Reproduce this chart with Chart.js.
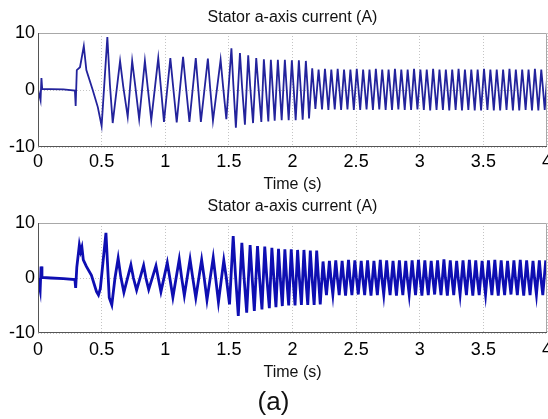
<!DOCTYPE html>
<html><head><meta charset="utf-8">
<script src="https://cdn.jsdelivr.net/npm/chart.js@4/dist/chart.umd.min.js"></script>
<style>
html,body{margin:0;padding:0;background:#fff;}
#wrap{position:relative;width:548px;height:419px;overflow:hidden;background:#fff;}
#c1{position:absolute;left:0;top:0;width:548px;height:195px;}
#c2{position:absolute;left:0;top:195px;width:548px;height:224px;}
</style></head><body>
<div id="wrap"><canvas id="c1" width="548" height="195"></canvas><canvas id="c2" width="548" height="224"></canvas></div>
<script>
const chartTitle = 'Stator a-axis current (A)';
const xAxisTitle = 'Time (s)';
const panelLabel = '(a)';
const xTickValues = [0, 0.5, 1, 1.5, 2, 2.5, 3, 3.5, 4];
const xTickLabels = ['0', '0.5', '1', '1.5', '2', '2.5', '3', '3.5', '4'];
const yTickValues = [-10, 0, 10];
const yTickLabels = ['-10', '0', '10'];

// Upper panel: time (s)
const topTime = [
 0, 0.020, 0.027, 0.033, 0.10, 0.20, 0.290, 0.296, 0.305, 0.330, 0.360, 0.380, 0.430, 0.470, 0.500, 0.545, 0.565, 0.587,
 0.645, 0.670, 0.705,
 0.740, 0.765, 0.795,
 0.840, 0.862, 0.890,
 0.945, 0.965, 0.990,
 1.040, 1.062, 1.090,
 1.140, 1.162, 1.190,
 1.240, 1.258, 1.280,
 1.335, 1.352, 1.375,
 1.435, 1.455, 1.480,
 1.520, 1.535, 1.555,
 1.587, 1.603, 1.626,
 1.652, 1.667, 1.690,
 1.715, 1.732, 1.755,
 1.775, 1.790, 1.810,
 1.830, 1.843, 1.860,
 1.885, 1.898, 1.915,
 1.940, 1.953, 1.970,
 1.995, 2.008, 2.025,
 2.050, 2.063, 2.080,
 2.105, 2.118, 2.130,
 2.155, 2.166, 2.180,
 2.205, 2.217, 2.232,
 2.255, 2.267, 2.282,
 2.305, 2.317, 2.332,
 2.355, 2.367, 2.382,
 2.405, 2.417, 2.432,
 2.455, 2.467, 2.482,
 2.505, 2.517, 2.532,
 2.555, 2.567, 2.582,
 2.605, 2.617, 2.632,
 2.655, 2.667, 2.682,
 2.705, 2.717, 2.732,
 2.755, 2.767, 2.782,
 2.805, 2.817, 2.832,
 2.855, 2.867, 2.882,
 2.905, 2.917, 2.932,
 2.955, 2.967, 2.982,
 3.005, 3.017, 3.032,
 3.055, 3.067, 3.082,
 3.105, 3.117, 3.132,
 3.155, 3.167, 3.182,
 3.205, 3.217, 3.232,
 3.255, 3.267, 3.282,
 3.305, 3.317, 3.332,
 3.355, 3.367, 3.382,
 3.405, 3.417, 3.432,
 3.455, 3.467, 3.482,
 3.505, 3.517, 3.532,
 3.555, 3.567, 3.582,
 3.605, 3.617, 3.632,
 3.655, 3.667, 3.682,
 3.705, 3.717, 3.732,
 3.755, 3.767, 3.782,
 3.805, 3.817, 3.832,
 3.855, 3.867, 3.882,
 3.905, 3.917, 3.932,
 3.955, 3.967, 3.982,
 4.000
];
// Upper panel: current (A)
const topCurrent = [
 0.1, -1.8, 2.1, 0.2, 0.15, 0.1, -0.1, -2.8, 3.5, 4.0, 7.7, 3.5, 0.0, -3.0, -6.3, 9.3, 1.0, -5.8,
 5.1, 0.6, -4.7,
 5.1, 0.6, -5.1,
 5.1, 0.5, -5.3,
 5.6, 0.6, -5.6,
 5.6, 0.6, -5.7,
 5.8, 0.7, -5.6,
 5.6, 0.6, -5.6,
 5.5, 0.6, -5.4,
 5.3, 0.5, -5.1,
 7.3, 1.0, -6.6,
 6.5, 0.8, -6.1,
 6.1, 0.8, -5.8,
 5.6, 0.7, -5.6,
 5.4, 0.7, -5.5,
 5.3, 0.7, -5.4,
 5.3, 0.7, -5.3,
 5.3, 0.7, -5.3,
 5.2, 0.7, -5.3,
 5.2, 0.7, -5.2,
 5.1, 0.6, -5.0,
 3.8, 0.6, -3.3,
 3.6, 0.6, -3.4,
 3.7, 0.6, -3.5,
 3.6, 0.5, -3.4,
 3.7, 0.6, -3.5,
 3.6, 0.6, -3.4,
 3.6, 0.6, -3.5,
 3.7, 0.6, -3.5,
 3.6, 0.5, -3.4,
 3.6, 0.6, -3.5,
 3.7, 0.6, -3.4,
 3.6, 0.6, -3.5,
 3.6, 0.6, -3.5,
 3.7, 0.5, -3.4,
 3.6, 0.6, -3.5,
 3.6, 0.6, -3.5,
 3.7, 0.6, -3.4,
 3.6, 0.6, -3.5,
 3.6, 0.6, -3.6,
 3.7, 0.5, -3.5,
 3.6, 0.6, -3.5,
 3.6, 0.6, -3.6,
 3.6, 0.6, -3.5,
 3.7, 0.6, -3.6,
 3.6, 0.5, -3.5,
 3.6, 0.6, -3.6,
 3.6, 0.6, -3.6,
 3.7, 0.6, -3.5,
 3.6, 0.6, -3.6,
 3.6, 0.5, -3.6,
 3.6, 0.6, -3.5,
 3.7, 0.6, -3.6,
 3.6, 0.6, -3.6,
 3.6, 0.6, -3.5,
 3.6, 0.5, -3.6,
 3.7, 0.6, -3.6,
 3.6, 0.6, -3.5,
 2.0
];

// Lower panel: time (s)
const bottomTime = [
 0, 0.017, 0.024, 0.031, 0.10, 0.20, 0.290, 0.296, 0.305, 0.325, 0.335, 0.345, 0.356, 0.380, 0.420, 0.460, 0.475, 0.490, 0.534, 0.560, 0.580, 0.605,
 0.630, 0.650, 0.675,
 0.730, 0.750, 0.775,
 0.830, 0.848, 0.870,
 0.927, 0.945, 0.966,
 1.016, 1.036, 1.060,
 1.110, 1.128, 1.150,
 1.195, 1.215, 1.240,
 1.286, 1.305, 1.328,
 1.377, 1.395, 1.418,
 1.460, 1.480, 1.505,
 1.534, 1.552, 1.574,
 1.602, 1.618, 1.640,
 1.667, 1.682, 1.700,
 1.725, 1.740, 1.760,
 1.782, 1.797, 1.818,
 1.838, 1.852, 1.870,
 1.890, 1.903, 1.920,
 1.940, 1.953, 1.970,
 1.990, 2.003, 2.020,
 2.040, 2.053, 2.070,
 2.090, 2.103, 2.120,
 2.140, 2.153, 2.170,
 2.190, 2.203, 2.218,
 2.240, 2.252, 2.267,
 2.290, 2.302, 2.317,
 2.340, 2.352, 2.367,
 2.390, 2.402, 2.417,
 2.440, 2.452, 2.467,
 2.490, 2.502, 2.517,
 2.540, 2.552, 2.567,
 2.590, 2.602, 2.617,
 2.640, 2.652, 2.667,
 2.690, 2.702, 2.717,
 2.740, 2.752, 2.767,
 2.790, 2.802, 2.817,
 2.840, 2.852, 2.867,
 2.890, 2.902, 2.917,
 2.940, 2.952, 2.967,
 2.990, 3.002, 3.017,
 3.040, 3.052, 3.067,
 3.090, 3.102, 3.117,
 3.140, 3.152, 3.167,
 3.190, 3.202, 3.217,
 3.240, 3.252, 3.267,
 3.290, 3.302, 3.317,
 3.340, 3.352, 3.367,
 3.390, 3.402, 3.417,
 3.440, 3.452, 3.467,
 3.490, 3.502, 3.517,
 3.540, 3.552, 3.567,
 3.590, 3.602, 3.617,
 3.640, 3.652, 3.667,
 3.690, 3.702, 3.717,
 3.740, 3.752, 3.767,
 3.790, 3.802, 3.817,
 3.840, 3.852, 3.867,
 3.890, 3.902, 3.917,
 3.940, 3.952, 3.967,
 3.990
];
// Lower panel: current (A)
const bottomCurrent = [
 0.0, -2.2, 2.1, 0.1, 0.0, -0.1, -0.3, -1.8, 2.0, 6.0, 4.8, 5.6, 3.3, 2.1, 0.5, -2.5, -3.1, -1.9, 8.2, -3.6, -4.9, 0.0,
 3.6, 0.3, -2.6,
 2.4, 0.0, -2.2,
 2.3, 0.0, -2.1,
 2.2, 0.0, -2.5,
 2.8, 0.0, -3.5,
 3.4, 0.2, -3.2,
 3.4, 0.2, -3.6,
 3.3, 0.2, -4.0,
 3.7, 0.2, -4.4,
 3.2, 0.0, -4.8,
 7.6, 0.5, -6.9,
 6.4, 0.5, -6.3,
 6.0, 0.4, -6.0,
 5.8, 0.4, -5.7,
 5.7, 0.4, -5.5,
 5.5, 0.4, -5.3,
 5.3, 0.3, -5.1,
 5.2, 0.3, -5.0,
 5.2, 0.3, -5.0,
 5.1, 0.3, -4.9,
 5.1, 0.3, -4.9,
 5.0, 0.3, -4.9,
 5.0, 0.3, -4.8,
 3.0, 0.0, -3.1,
 3.1, 0.0, -3.0,
 3.2, 0.1, -3.1,
 3.1, 0.0, -3.2,
 3.3, 0.0, -3.1,
 3.2, 0.1, -3.0,
 3.1, 0.0, -3.1,
 3.2, 0.0, -3.2,
 3.1, 0.1, -3.1,
 3.3, 0.0, -3.0,
 3.2, 0.0, -3.1,
 3.1, 0.1, -3.2,
 3.2, 0.0, -3.1,
 3.1, 0.0, -3.0,
 3.2, 0.1, -3.1,
 3.3, 0.0, -3.2,
 3.2, 0.0, -3.1,
 3.1, 0.1, -3.0,
 3.2, 0.0, -3.1,
 3.4, 0.0, -3.2,
 3.2, 0.1, -3.1,
 3.1, 0.0, -3.0,
 3.2, 0.0, -3.1,
 3.3, 0.1, -3.2,
 3.2, 0.0, -3.1,
 3.1, 0.0, -3.0,
 3.2, 0.1, -3.1,
 3.3, 0.0, -3.2,
 3.2, 0.0, -3.1,
 3.1, 0.1, -3.0,
 3.2, 0.0, -3.1,
 3.3, 0.0, -3.2,
 3.2, 0.1, -3.1,
 3.1, 0.0, -3.0,
 3.2, 0.0, -3.1,
 3.2
];

Chart.defaults.font.family = "'Liberation Sans', Arial, Helvetica, sans-serif";
Chart.defaults.color = '#111';

const boxPlugin = {
  id: 'boxOutline',
  afterDatasetsDraw(chart) {
    const {ctx, chartArea: a} = chart;
    ctx.save();
    ctx.strokeStyle = '#a8a8a8';
    ctx.lineWidth = 1;
    ctx.beginPath();
    ctx.moveTo(a.left, a.top + 0.5);
    ctx.lineTo(a.right - 0.5, a.top + 0.5);
    ctx.lineTo(a.right - 0.5, a.bottom);
    ctx.stroke();
    ctx.strokeStyle = '#555';
    ctx.beginPath();
    ctx.moveTo(a.left + 0.5, a.top);
    ctx.lineTo(a.left + 0.5, a.bottom - 0.5);
    ctx.lineTo(a.right, a.bottom - 0.5);
    ctx.stroke();
    ctx.restore();
  }
};

function makePanel(canvasId, times, currents, cfg) {
  const plugins = {
    legend: {display: false},
    tooltip: {enabled: false},
    title: {
      display: true, text: chartTitle, fullSize: false,
      font: {size: 16, weight: 'normal'}, color: '#111',
      padding: {top: cfg.titleTop, bottom: cfg.titleBottom}
    }
  };
  if (cfg.subtitle) {
    plugins.subtitle = {
      display: true, text: cfg.subtitle, position: 'bottom', fullSize: true,
      font: {size: 26, weight: 'normal'}, color: '#111',
      padding: {top: 3, bottom: 1}
    };
  }
  return new Chart(document.getElementById(canvasId), {
    type: 'line',
    data: {
      datasets: [{
        data: times.map((t, i) => ({x: t, y: currents[i]})),
        borderColor: cfg.color,
        borderWidth: cfg.width,
        pointRadius: 0,
        tension: 0,
        fill: false
      }]
    },
    options: {
      responsive: false,
      animation: false,
      devicePixelRatio: 1,
      layout: {padding: {left: 0, right: 1, top: 0, bottom: 0}},
      plugins,
      scales: {
        x: {
          type: 'linear', min: 0, max: 4,
          afterBuildTicks: s => { s.ticks = xTickValues.map(v => ({value: v})); },
          ticks: {
            callback: (v, i) => xTickLabels[i],
            font: {size: 18}, color: '#000', padding: cfg.xTickPad,
            maxRotation: 0, autoSkip: false
          },
          grid: {color: '#c4c4c4', lineWidth: 1, drawTicks: false},
          border: {display: false, dash: [1, 2]},
          title: {
            display: true, text: xAxisTitle, font: {size: 16}, color: '#111',
            padding: {top: 0, bottom: cfg.xTitlePad}
          },
          afterFit: s => { s.height = cfg.xHeight; s.paddingLeft = 0; s.paddingRight = 0; }
        },
        y: {
          min: -10, max: 10,
          afterBuildTicks: s => { s.ticks = yTickValues.map(v => ({value: v})); },
          ticks: {
            callback: (v, i) => yTickLabels[i],
            font: {size: 18}, color: '#000', padding: 3
          },
          grid: {color: '#c4c4c4', lineWidth: 1, drawTicks: false},
          border: {display: false, dash: [1, 2]},
          afterFit: s => { s.width = 38; s.paddingTop = 0; s.paddingBottom = 0; }
        }
      }
    },
    plugins: [boxPlugin]
  });
}

makePanel('c1', topTime, topCurrent, {
  color: '#23239c', width: 1.8, titleTop: 7.8, titleBottom: 6,
  xTickPad: 4, xTitlePad: 0.4, xHeight: 48
});
makePanel('c2', bottomTime, bottomCurrent, {
  color: '#0e0eb2', width: 2.8, titleTop: 2.3, titleBottom: 6.5,
  xTickPad: 6, xTitlePad: 1.2, xHeight: 50.8, subtitle: panelLabel
});
</script>
</body></html>
